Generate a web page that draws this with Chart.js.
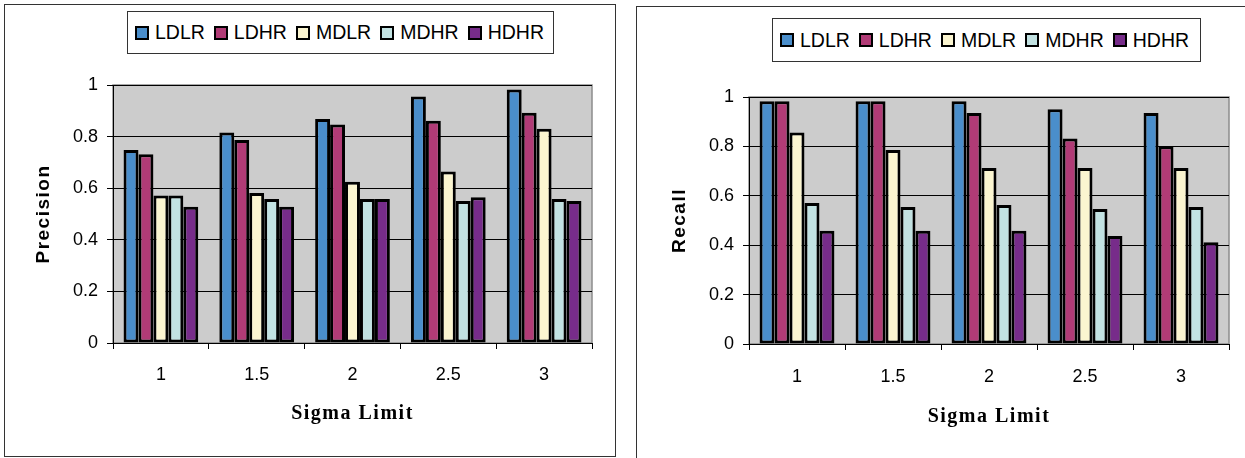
<!DOCTYPE html>
<html lang="en">
<head>
    <meta charset="UTF-8">
    <title>Precision and Recall vs Sigma Limit</title>
    <style>
        body {
            margin: 0;
            background: #fff;
            width: 1245px;
            height: 458px;
            overflow: hidden;
            position: relative;
            font-family: 'Liberation Sans', Arial, sans-serif;
        }
        .frame {
            position: absolute;
            border: 1px solid #333;
            box-sizing: border-box;
        }
        .panel {
            position: absolute;
            top: 0;
        }
        .legend {
            position: absolute;
            border: 1px solid #333;
            box-sizing: border-box;
            display: flex;
            align-items: center;
            padding-left: 7px;
            background: #fff;
            font-size: 19.5px;
            color: #000;
        }
        .legend .sw {
            width: 14px;
            height: 14px;
            border: 2px solid #000;
            box-sizing: border-box;
            margin-right: 6px;
        }
        .legend .txt {
            margin-right: 9px;
        }
    </style>
</head>
<body>
    <div class="frame" style="left:4px; top:4px; width:612px; height:453px;"></div>
    <div class="frame" style="left:636px; top:6px; width:620px; height:460px;"></div>

    <canvas class="panel" id="precisionChart" width="620" height="458" style="left:0px;"></canvas>
    <canvas class="panel" id="recallChart" width="620" height="458" style="left:625px;"></canvas>

    <div class="legend" id="legendLeft" style="left:127px; top:11px; width:427px; height:43px;"></div>
    <div class="legend" id="legendRight" style="left:772px; top:18px; width:429px; height:44px;"></div>

    <script src="https://cdn.jsdelivr.net/npm/chart.js"></script>
    <script>
        // categories (sigma limit) and series
        const sigmaLimits = ['1', '1.5', '2', '2.5', '3'];
        const seriesNames = ['LDLR', 'LDHR', 'MDLR', 'MDHR', 'HDHR'];
        const yTicks = [0, 0.2, 0.4, 0.6, 0.8, 1];

        // precision values
        const precLDLR = [0.748, 0.816, 0.868, 0.955, 0.983];
        const precLDHR = [0.732, 0.787, 0.847, 0.861, 0.892];
        const precMDLR = [0.572, 0.581, 0.625, 0.665, 0.830];
        const precMDHR = [0.572, 0.558, 0.558, 0.550, 0.558];
        const precHDHR = [0.528, 0.528, 0.558, 0.565, 0.550];

        // recall values
        const recLDLR = [0.983, 0.983, 0.983, 0.950, 0.935];
        const recLDHR = [0.983, 0.983, 0.935, 0.832, 0.801];
        const recMDLR = [0.856, 0.785, 0.713, 0.713, 0.713];
        const recMDHR = [0.571, 0.555, 0.563, 0.547, 0.555];
        const recHDHR = [0.459, 0.459, 0.459, 0.437, 0.412];

        const colors = ['#4a8ecb', '#b13b76', '#fbf5d0', '#c2e2e2', '#772c8a'];

        Chart.defaults.font.family = "'Liberation Sans', Arial, sans-serif";
        Chart.defaults.color = '#000';

        // grey plot area with a thin frame
        const plotBackground = {
            id: 'plotBackground',
            beforeDraw(chart) {
                const {ctx, chartArea: a} = chart;
                ctx.save();
                ctx.fillStyle = '#cccccc';
                ctx.fillRect(a.left, a.top, a.right - a.left, a.bottom - a.top);
                ctx.strokeStyle = '#8c8c8c';
                ctx.lineWidth = 1.5;
                ctx.strokeRect(a.left, a.top, a.right - a.left, a.bottom - a.top);
                ctx.restore();
                // axis titles are spaced out a little in the original
                ctx.letterSpacing = '1.5px';
            },
            beforeDatasetsDraw(chart) {
                chart.ctx.letterSpacing = '0px';
            }
        };

        function makeDatasets(values) {
            return values.map((v, i) => ({
                label: seriesNames[i],
                data: v,
                backgroundColor: colors[i],
                borderColor: '#000000',
                borderWidth: 3,
                borderSkipped: false
            }));
        }

        function makeChart(id, values, yTitle, geo) {
            const ctx = document.getElementById(id).getContext('2d');
            return new Chart(ctx, {
                type: 'bar',
                data: {
                    labels: sigmaLimits,
                    datasets: makeDatasets(values)
                },
                options: {
                    responsive: false,
                    animation: false,
                    categoryPercentage: 0.78,
                    barPercentage: 1,
                    layout: {
                        padding: {left: 0, right: geo.padRight, top: geo.padTop, bottom: 0}
                    },
                    plugins: {
                        legend: {display: false},
                        tooltip: {enabled: false}
                    },
                    scales: {
                        x: {
                            afterFit(scale) { scale.height = geo.xHeight; },
                            grid: {
                                offset: true,
                                drawOnChartArea: false,
                                color: '#000',
                                tickLength: 6
                            },
                            border: {color: '#000', width: 1, z: 1},
                            ticks: {
                                font: {size: 18},
                                padding: geo.xTickPad,
                                maxRotation: 0,
                                z: 1
                            },
                            title: {
                                display: true,
                                text: 'Sigma Limit',
                                font: {family: "'Liberation Serif', 'Times New Roman', serif", size: 20, weight: 'bold'},
                                padding: {top: 0, bottom: geo.xTitlePad}
                            }
                        },
                        y: {
                            min: 0,
                            max: 1,
                            afterFit(scale) { scale.width = geo.yWidth; },
                            afterBuildTicks(scale) {
                                scale.ticks = yTicks.map(v => ({value: v}));
                            },
                            grid: {
                                color: '#000',
                                lineWidth: 1,
                                tickLength: 6
                            },
                            border: {color: '#000', width: 1, z: 1},
                            ticks: {
                                font: {size: 18},
                                padding: 9,
                                z: 1,
                                callback: v => String(v)
                            },
                            title: {
                                display: true,
                                text: yTitle,
                                font: {size: 19, weight: 'bold'},
                                padding: {top: geo.yTitlePad, bottom: 0}
                            }
                        }
                    }
                },
                plugins: [plotBackground]
            });
        }

        function buildLegend(id) {
            const el = document.getElementById(id);
            seriesNames.forEach((name, i) => {
                const sw = document.createElement('span');
                sw.className = 'sw';
                sw.style.background = colors[i];
                const txt = document.createElement('span');
                txt.className = 'txt';
                txt.textContent = name;
                el.appendChild(sw);
                el.appendChild(txt);
            });
        }

        makeChart('precisionChart',
            [precLDLR, precLDHR, precMDLR, precMDHR, precHDHR],
            'Precision',
            {padTop: 85, padRight: 28, xHeight: 115, yWidth: 113, xTickPad: 15, xTitlePad: 32, yTitlePad: 32});

        makeChart('recallChart',
            [recLDLR, recLDHR, recMDLR, recMDHR, recHDHR],
            'Recall',
            {padTop: 97, padRight: 16, xHeight: 114, yWidth: 124, xTickPad: 16, xTitlePad: 29, yTitlePad: 43});

        buildLegend('legendLeft');
        buildLegend('legendRight');
    </script>
</body>
</html>
